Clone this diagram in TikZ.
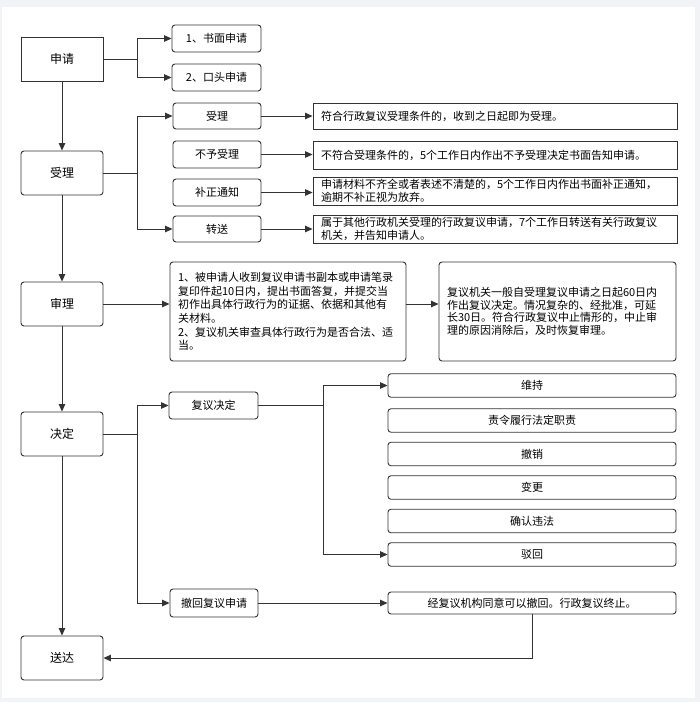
\documentclass[tikz,border=0pt]{standalone}
\usepackage{fontspec}
\setmainfont{Noto Sans CJK SC}
\usetikzlibrary{arrows.meta}
\definecolor{ln}{HTML}{333333}
\definecolor{bgc}{HTML}{F1F3F6}
\begin{document}
\begin{tikzpicture}[x=1pt,y=-1pt,
  box/.style={draw=ln,line width=0.9pt,fill=white,inner sep=0pt,align=center,text=black},
  mainbox/.style={box,minimum width=82pt,minimum height=44pt,font=\fontsize{12}{14}\selectfont},
  rbox/.style={box,rounded corners=3pt},
  smallbox/.style={rbox,font=\fontsize{11}{13}\selectfont},
  textbox/.style={box,font=\fontsize{11}{13}\selectfont,align=left,inner xsep=8pt,text width=348pt},
  arr/.style={draw=ln,line width=0.9pt,-{Triangle[length=7.5pt,width=6.5pt]}},
  ln/.style={draw=ln,line width=0.9pt}
]
\fill[bgc] (0,0) rectangle (700,702);
\fill[white] (2,7) rectangle (695,698);

% main column
\node[mainbox] (A) at (62,59) {申请};
\node[mainbox,rounded corners=3pt] (B) at (62,173) {受理};
\node[mainbox,rounded corners=3pt] (C) at (62,304) {审理};
\node[mainbox,rounded corners=3pt] (E) at (62,434) {决定};
\node[mainbox,rounded corners=3pt] (F) at (62,658) {送达};

% apply branch
\node[smallbox,minimum width=89pt,minimum height=27pt] (A1) at (216.5,38.5) {1、书面申请};
\node[smallbox,minimum width=89pt,minimum height=27pt] (A2) at (216.5,77.5) {2、口头申请};

% accept branch
\node[smallbox,minimum width=88pt,minimum height=26pt] (B1) at (217,116) {受理};
\node[smallbox,minimum width=88pt,minimum height=27pt] (B2) at (217,154.5) {不予受理};
\node[smallbox,minimum width=88pt,minimum height=27pt] (B3) at (217,192.5) {补正通知};
\node[smallbox,minimum width=88pt,minimum height=26pt] (B4) at (217,229) {转送};

\node[textbox,minimum height=26pt] (D1) at (495,116) {符合行政复议受理条件的，收到之日起即为受理。};
\node[textbox,minimum height=28pt] (D2) at (495,155) {不符合受理条件的，5个工作日内作出不予受理决定书面告知申请。};
\node[textbox,minimum height=28pt] (D3) at (495,191) {申请材料不齐全或者表述不清楚的，5个工作日内作出书面补正通知，\\逾期不补正视为放弃。};
\node[textbox,minimum height=28pt] (D4) at (495,229) {属于其他行政机关受理的行政复议申请，7个工作日转送有关行政复议\\机关，并告知申请人。};

% review
\node[rbox,align=left,inner xsep=8pt,text width=220pt,minimum height=99pt,font=\fontsize{11}{13.7}\selectfont] (C1) at (288,311.5) {1、被申请人收到复议申请书副本或申请笔录\\复印件起10日内，提出书面答复，并提交当\\初作出具体行政行为的证据、依据和其他有\\关材料。\\2、复议机关审查具体行政行为是否合法、适\\当。};
\node[rbox,align=left,inner xsep=8pt,text width=221pt,minimum height=99pt,font=\fontsize{11}{12.6}\selectfont] (C2) at (557.5,311.5) {复议机关一般自受理复议申请之日起60日内\\作出复议决定。情况复杂的、经批准，可延\\长30日。符合行政复议中止情形的，中止审\\理的原因消除后，及时恢复审理。};

% decision
\node[smallbox,minimum width=89pt,minimum height=27pt] (E1) at (213.5,405.5) {复议决定};
\node[smallbox,minimum width=88pt,minimum height=28pt] (E2) at (214,603) {撤回复议申请};
\node[smallbox,minimum width=288pt,minimum height=22pt] (E3) at (532,603) {经复议机构同意可以撤回。行政复议终止。};

\node[smallbox,minimum width=288pt,minimum height=23.5pt] (O1) at (532,385.5) {维持};
\node[smallbox,minimum width=288pt,minimum height=23.5pt] (O2) at (532,420.5) {责令履行法定职责};
\node[smallbox,minimum width=288pt,minimum height=23.5pt] (O3) at (532,454) {撤销};
\node[smallbox,minimum width=288pt,minimum height=23.5pt] (O4) at (532,487.5) {变更};
\node[smallbox,minimum width=288pt,minimum height=23.5pt] (O5) at (532,521) {确认违法};
\node[smallbox,minimum width=288pt,minimum height=23.5pt] (O6) at (532,554.5) {驳回};

% connectors
\coordinate (ja) at (137,59);
\coordinate (jb) at (137,173);
\coordinate (je) at (137,434);
\coordinate (jo) at (323,405.5);

\draw[ln] (A.east) -- (ja);
\draw[arr] (ja) |- (A1.west);
\draw[arr] (ja) |- (A2.west);
\draw[arr] (A.south) -- (B.north);

\draw[ln] (B.east) -- (jb);
\draw[arr] (jb) |- (B1.west);
\draw[arr] (jb) |- (B4.west);
\draw[arr] (B1.east) -- (D1.west);
\draw[arr] (B2.east) -- (B2.east -| D2.west);
\draw[arr] (B3.east) -- (B3.east -| D3.west);
\draw[arr] (B4.east) -- (D4.west);
\draw[arr] (B.south) -- (C.north);

\draw[arr] (C.east) -- (C.east -| C1.west);
\draw[arr] (C.east -| C1.east) -- (C.east -| C2.west);
\draw[arr] (C.south) -- (E.north);

\draw[ln] (E.east) -- (je);
\draw[arr] (je) |- (E1.west);
\draw[arr] (je) |- (E2.west);
\draw[ln] (E1.east) -- (jo);
\draw[arr] (jo) |- (O1.west);
\draw[arr] (jo) |- (O6.west);
\draw[arr] (E2.east) -- (E3.west);
\draw[arr] (E.south) -- (F.north);
\draw[arr] (E3.south) |- (F.east);
\end{tikzpicture}
\end{document}
